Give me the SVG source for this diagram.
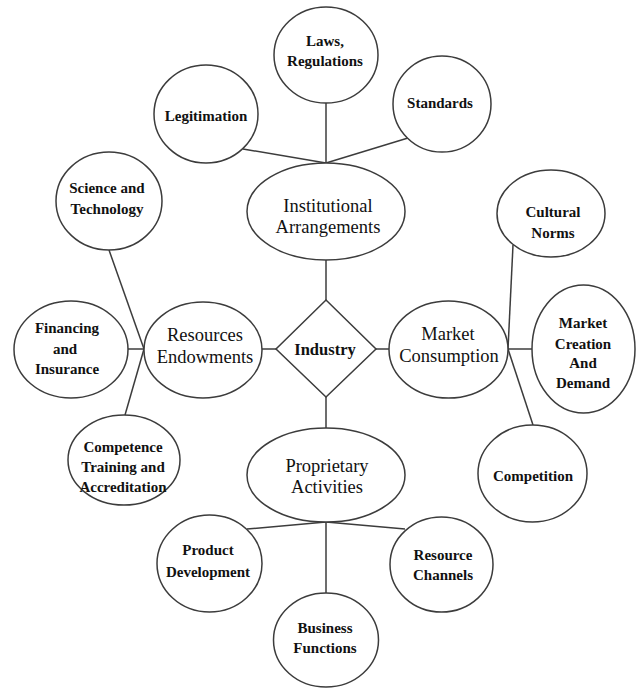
<svg xmlns="http://www.w3.org/2000/svg" width="636" height="689" viewBox="0 0 636 689">
  <style>
    .shape { fill: #ffffff; stroke: #3c3c3c; stroke-width: 1.5; }
    .link { stroke: #3c3c3c; stroke-width: 1.5; fill: none; }
    text { font-family: 'Liberation Serif', 'Times New Roman', 'DejaVu Serif', serif; fill: #111; text-anchor: middle; }
    .lbl { font-weight: bold; font-size: 15px; }
    .hub { font-weight: normal; font-size: 18.5px; }
  </style>
  <rect width="636" height="689" fill="#ffffff"/>

  <!-- connectors -->
  <g id="connectors">
    <line class="link" x1="243" y1="149" x2="326" y2="163"/>
    <line class="link" x1="326" y1="103" x2="326" y2="163"/>
    <line class="link" x1="408" y1="138" x2="326" y2="163"/>
    <line class="link" x1="326" y1="260" x2="326" y2="300"/>
    <line class="link" x1="109" y1="250" x2="144" y2="349"/>
    <line class="link" x1="128" y1="349" x2="144" y2="349"/>
    <line class="link" x1="125" y1="415" x2="144" y2="349"/>
    <line class="link" x1="262" y1="349" x2="276" y2="349"/>
    <line class="link" x1="376" y1="349" x2="389" y2="349"/>
    <line class="link" x1="513" y1="245" x2="508" y2="349"/>
    <line class="link" x1="508" y1="349" x2="532" y2="349"/>
    <line class="link" x1="533" y1="425" x2="508" y2="349"/>
    <line class="link" x1="326" y1="397" x2="326" y2="428"/>
    <line class="link" x1="247" y1="529" x2="326" y2="522"/>
    <line class="link" x1="405" y1="529" x2="326" y2="522"/>
    <line class="link" x1="326" y1="593" x2="326" y2="522"/>
  </g>

  <!-- central node -->
  <g id="industry">
    <polygon class="shape" points="326,300 376,349 326,397 276,349"/>
    <text class="lbl" x="325" y="355" style="font-size:16.5px">Industry</text>
  </g>

  <!-- hubs -->
  <g id="institutional-arrangements">
    <ellipse class="shape" cx="326" cy="211.5" rx="79" ry="48.5"/>
    <text class="hub" x="328" y="212">Institutional</text>
    <text class="hub" x="328" y="233">Arrangements</text>
  </g>
  <g id="resources-endowments">
    <ellipse class="shape" cx="203" cy="350" rx="59" ry="48"/>
    <text class="hub" x="205" y="341">Resources</text>
    <text class="hub" x="205" y="363">Endowments</text>
  </g>
  <g id="market-consumption">
    <ellipse class="shape" cx="448.5" cy="349.5" rx="59.5" ry="48.5"/>
    <text class="hub" x="448" y="340">Market</text>
    <text class="hub" x="449" y="362">Consumption</text>
  </g>
  <g id="proprietary-activities">
    <ellipse class="shape" cx="326" cy="475" rx="79" ry="47"/>
    <text class="hub" x="327" y="472">Proprietary</text>
    <text class="hub" x="327" y="493">Activities</text>
  </g>

  <!-- institutional leaves -->
  <g id="laws-regulations">
    <ellipse class="shape" cx="326" cy="55" rx="52" ry="48"/>
    <text class="lbl" x="325" y="46">Laws,</text>
    <text class="lbl" x="325" y="66">Regulations</text>
  </g>
  <g id="legitimation">
    <ellipse class="shape" cx="206" cy="114" rx="52" ry="49"/>
    <text class="lbl" x="206" y="121">Legitimation</text>
  </g>
  <g id="standards">
    <ellipse class="shape" cx="442" cy="104" rx="49" ry="48"/>
    <text class="lbl" x="440" y="108">Standards</text>
  </g>

  <!-- resource leaves -->
  <g id="science-technology">
    <ellipse class="shape" cx="109" cy="201" rx="53" ry="49"/>
    <text class="lbl" x="107" y="193">Science and</text>
    <text class="lbl" x="107" y="214">Technology</text>
  </g>
  <g id="financing-insurance">
    <ellipse class="shape" cx="71" cy="349.5" rx="57" ry="48.5"/>
    <text class="lbl" x="67" y="333">Financing</text>
    <text class="lbl" x="65" y="354">and</text>
    <text class="lbl" x="67" y="374">Insurance</text>
  </g>
  <g id="competence-training">
    <ellipse class="shape" cx="124" cy="460" rx="56" ry="45"/>
    <text class="lbl" x="123" y="452">Competence</text>
    <text class="lbl" x="123" y="472">Training and</text>
    <text class="lbl" x="123" y="492">Accreditation</text>
  </g>

  <!-- market leaves -->
  <g id="cultural-norms">
    <ellipse class="shape" cx="551" cy="213.5" rx="54" ry="43.5"/>
    <text class="lbl" x="553" y="217">Cultural</text>
    <text class="lbl" x="553" y="238">Norms</text>
  </g>
  <g id="market-creation-demand">
    <ellipse class="shape" cx="583.5" cy="349" rx="51.5" ry="64"/>
    <text class="lbl" x="583" y="328">Market</text>
    <text class="lbl" x="583" y="349">Creation</text>
    <text class="lbl" x="583" y="368">And</text>
    <text class="lbl" x="583" y="388">Demand</text>
  </g>
  <g id="competition">
    <ellipse class="shape" cx="532.5" cy="473.5" rx="54.5" ry="48.5"/>
    <text class="lbl" x="533" y="481">Competition</text>
  </g>

  <!-- proprietary leaves -->
  <g id="product-development">
    <ellipse class="shape" cx="209.5" cy="563.5" rx="52.5" ry="48.5"/>
    <text class="lbl" x="208" y="555">Product</text>
    <text class="lbl" x="208" y="577">Development</text>
  </g>
  <g id="resource-channels">
    <ellipse class="shape" cx="441.5" cy="564.5" rx="51.5" ry="47.5"/>
    <text class="lbl" x="443" y="560">Resource</text>
    <text class="lbl" x="443" y="580">Channels</text>
  </g>
  <g id="business-functions">
    <ellipse class="shape" cx="326" cy="640" rx="52.5" ry="47"/>
    <text class="lbl" x="325" y="633">Business</text>
    <text class="lbl" x="325" y="653">Functions</text>
  </g>
</svg>
